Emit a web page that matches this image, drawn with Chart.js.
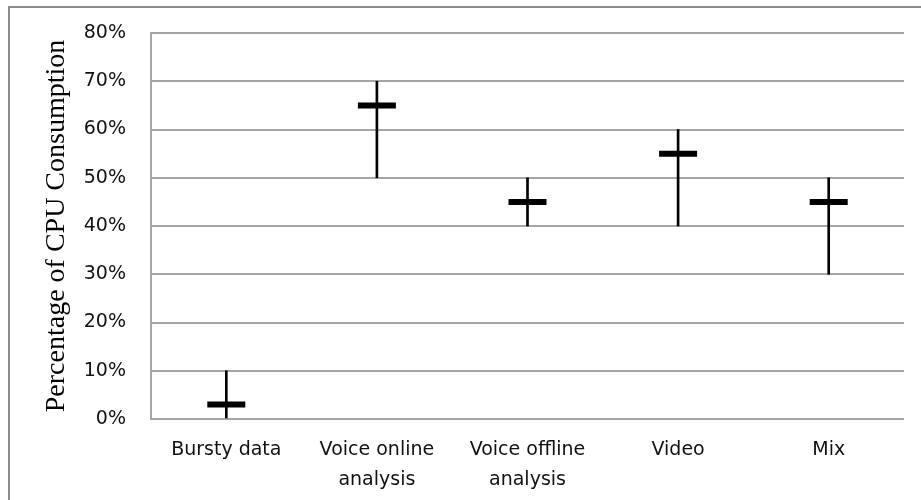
<!DOCTYPE html>
<html>
<head>
<meta charset="utf-8">
<script src="https://cdn.jsdelivr.net/npm/chart.js@4"></script>
<style>
  body { margin: 0; background: #fff; }
  #wrap { position: relative; width: 921px; height: 500px; overflow: hidden; }
  #frame { position: absolute; left: 8px; top: 6px; width: 930px; height: 510px;
           border-left: 2px solid #8c8c8c; border-top: 2px solid #8c8c8c; box-sizing: border-box; }
  canvas { position: absolute; left: 0; top: 0; }
</style>
</head>
<body>
<div id="wrap">
  <div id="frame"></div>
  <canvas id="myChart" width="921" height="500"></canvas>
</div>
<script>
const categories = [["Bursty data"], ["Voice online", "analysis"], ["Voice offline", "analysis"], ["Video"], ["Mix"]];
const lowValues = [0, 50, 40, 40, 30];
const highValues = [10, 70, 50, 60, 50];
const meanValues = [3, 65, 45, 55, 45];
const yTicks = [0, 10, 20, 30, 40, 50, 60, 70, 80];

const gridColor = "#a6a6a6";
const tickFont = "DejaVu Sans";
const ctx = document.querySelector("#myChart").getContext("2d");

// eslint-disable-next-line no-unused-vars
const chart = new Chart(ctx, {
    type: "bar",
    data: {
        labels: categories,
        datasets: [
            {
                type: "line",
                label: "mean",
                data: meanValues,
                showLine: false,
                pointStyle: "line",
                pointRadius: 19,
                pointHoverRadius: 19,
                borderWidth: 6,
                pointBorderWidth: 6,
                borderColor: "#000",
                pointBorderColor: "#000",
                order: 0
            },
            {
                label: "range",
                data: lowValues.map((low, i) => [low, highValues[i]]),
                backgroundColor: "#000",
                borderWidth: 0,
                barThickness: 2,
                order: 1
            }
        ]
    },
    options: {
        responsive: false,
        animation: false,
        layout: { autoPadding: false, padding: { top: 33, right: 17, left: 0, bottom: 0 } },
        plugins: { legend: { display: false }, tooltip: { enabled: false } },
        scales: {
            x: {
                grid: { display: false, drawTicks: false },
                border: { display: false },
                ticks: {
                    color: "#111",
                    padding: 17,
                    maxRotation: 0,
                    font: { family: tickFont, size: 19, lineHeight: 1.53 }
                },
                afterFit: (scale) => {
                    scale.height = 81;
                    scale.paddingLeft = 0;
                    scale.paddingRight = 0;
                }
            },
            y: {
                min: 0,
                max: 80,
                afterBuildTicks: (scale) => { scale.ticks = yTicks.map(v => ({ value: v })); },
                grid: { color: gridColor, lineWidth: 2, drawTicks: false },
                border: { display: true, color: gridColor, width: 2 },
                ticks: {
                    color: "#111",
                    padding: 25,
                    callback: (v) => v + "%",
                    font: { family: tickFont, size: 19 }
                },
                title: {
                    display: true,
                    text: "Percentage of CPU Consumption",
                    color: "#000",
                    font: { family: "Liberation Serif", size: 28 },
                    padding: { top: 40, bottom: 0 }
                },
                afterFit: (scale) => {
                    scale.width = 151;
                    scale.paddingTop = 0;
                    scale.paddingBottom = 0;
                }
            }
        }
    }
});
</script>
</body>
</html>
